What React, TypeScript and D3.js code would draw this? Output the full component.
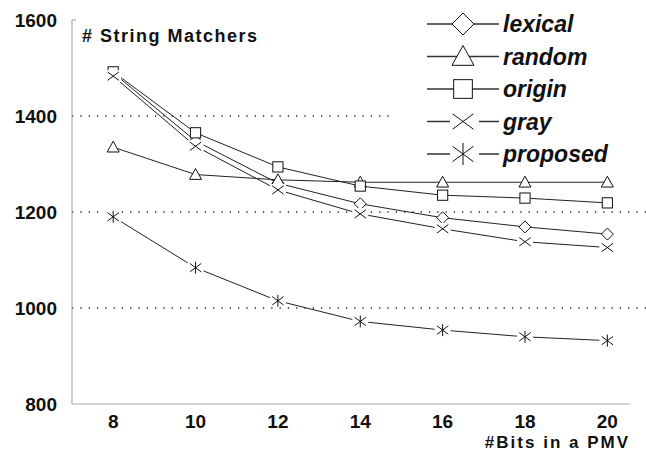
import React from 'react'
import * as d3 from 'd3'

const bits = [8, 10, 12, 14, 16, 18, 20]
const lexical = [1490, 1348, 1260, 1217, 1188, 1169, 1154]
const random = [1335, 1278, 1267, 1262, 1262, 1262, 1262]
const origin = [1492, 1365, 1294, 1254, 1235, 1229, 1219]
const gray = [1483, 1337, 1246, 1196, 1165, 1138, 1126]
const proposed = [1190, 1084, 1015, 972, 954, 940, 932]
const seriesNames = ['lexical', 'random', 'origin', 'gray', 'proposed']
const seriesSymbols = ['diamond', 'triangle', 'square', 'cross', 'asterisk']
const yTicks = [800, 1000, 1200, 1400, 1600]
const gridTicks = [1000, 1200, 1400]

const FONT = '"Liberation Sans", Arial, Helvetica, sans-serif'

function Marker({ type, cx, cy, s }: { type: string; cx: number; cy: number; s: number }) {
  const h = s / 2
  const common = { fill: '#fff', stroke: '#111', strokeWidth: 1 }
  if (type === 'diamond') {
    return <path d={`M${cx},${cy - h}L${cx + h},${cy}L${cx},${cy + h}L${cx - h},${cy}Z`} {...common} />
  }
  if (type === 'triangle') {
    return <path d={`M${cx},${cy - h}L${cx + h},${cy + h * 0.8}L${cx - h},${cy + h * 0.8}Z`} {...common} />
  }
  if (type === 'square') {
    const q = h * 0.85
    return <rect x={cx - q} y={cy - q} width={q * 2} height={q * 2} {...common} />
  }
  const r = h * 0.95
  const v = h * 0.7
  return (
    <g>
      <rect x={cx - h - 2} y={cy - h} width={s + 4} height={s} fill="#fff" />
      <line x1={cx - r} y1={cy - v} x2={cx + r} y2={cy + v} stroke="#111" strokeWidth={1} />
      <line x1={cx - r} y1={cy + v} x2={cx + r} y2={cy - v} stroke="#111" strokeWidth={1} />
      {type === 'asterisk' && (
        <line x1={cx} y1={cy - h} x2={cx} y2={cy + h} stroke="#111" strokeWidth={1} />
      )}
    </g>
  )
}

export default function App() {
  const width = 646
  const height = 454
  const x = d3.scaleLinear().domain([7, 20.55]).range([72, 630])
  const y = d3.scaleLinear().domain([800, 1600]).range([404, 20])
  const data = [lexical, random, origin, gray, proposed]
  const line = d3
    .line<number>()
    .x((_, i) => x(bits[i]))
    .y(d => y(d))

  return (
    <svg width={width} height={height} style={{ position: 'absolute', left: 0, top: 0, background: '#fff' }}>
      {gridTicks.map(t => (
        <line key={t} x1={72} x2={646} y1={y(t)} y2={y(t)} stroke="#222" strokeWidth={1.3} strokeDasharray="1.3 7" />
      ))}
      <line x1={72} x2={72} y1={y(1600)} y2={y(800)} stroke="#999" />
      <line x1={72} x2={76} y1={y(1600)} y2={y(1600)} stroke="#999" />
      <line x1={72} x2={630} y1={y(800)} y2={y(800)} stroke="#aaa" />

      {yTicks.map(t => (
        <text key={t} x={57} y={y(t) + 7} textAnchor="end" fontFamily={FONT} fontWeight="bold" fontSize={19} fill="#111">
          {t}
        </text>
      ))}
      {bits.map(b => (
        <text key={b} x={x(b)} y={428} textAnchor="middle" fontFamily={FONT} fontWeight="bold" fontSize={19} fill="#111">
          {b}
        </text>
      ))}

      {data.map((d, i) => (
        <path key={i} d={line(d) || ''} fill="none" stroke="#222" strokeWidth={1} />
      ))}
      {data.map((d, i) => (
        <g key={i}>
          {d.map((v, j) => (
            <Marker key={j} type={seriesSymbols[i]} cx={x(bits[j])} cy={y(v)} s={12} />
          ))}
        </g>
      ))}

      <rect x={390} y={0} width={256} height={170} fill="#fff" />
      {seriesNames.map((name, i) => {
        const cy = 24 + i * 32.5
        const gap = i >= 3
        return (
          <g key={name}>
            {gap ? (
              <>
                <line x1={427} x2={450} y1={cy} y2={cy} stroke="#333" strokeWidth={1.5} />
                <line x1={479} x2={499} y1={cy} y2={cy} stroke="#333" strokeWidth={1.5} />
              </>
            ) : (
              <line x1={427} x2={499} y1={cy} y2={cy} stroke="#333" strokeWidth={1.5} />
            )}
            <Marker type={seriesSymbols[i]} cx={463} cy={cy} s={22} />
            <text x={503} y={cy + 8} fontFamily={FONT} fontWeight="bold" fontStyle="italic" fontSize={23} fill="#111">
              {name}
            </text>
          </g>
        )
      })}

      <text x={82} y={42} fontFamily={FONT} fontWeight="bold" fontSize={18} letterSpacing={1.5} fill="#111">
        # String Matchers
      </text>
      <text x={630} y={448} textAnchor="end" fontFamily={FONT} fontWeight="bold" fontSize={17} letterSpacing={2} fill="#111">
        #Bits in a PMV
      </text>
    </svg>
  )
}
